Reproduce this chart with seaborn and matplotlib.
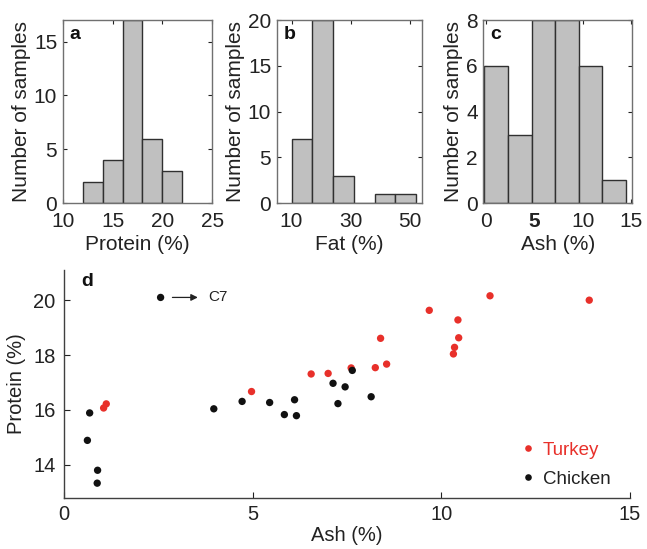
import numpy as np
import pandas as pd
import seaborn as sns
import matplotlib.pyplot as plt

protein_edges = [12, 14, 16, 18, 20, 22]
protein_counts = [2, 4, 17, 6, 3]
fat_edges = [10, 17, 24, 31, 38, 45, 52]
fat_counts = [7, 20, 3, 0, 1, 1]
ash_edges = [-0.2, 2.25, 4.75, 7.15, 9.6, 12.05, 14.5]
ash_counts = [6, 3, 8, 8, 6, 1]

# scatter (panel d)
chicken_ash = [0.62, 0.68, 0.89, 0.88, 3.97, 4.72, 5.45, 5.84, 6.11, 6.16, 7.13, 7.26, 7.45, 7.64, 8.14]
chicken_protein = [14.89, 15.89, 13.80, 13.33, 16.04, 16.31, 16.27, 15.83, 16.37, 15.79, 16.97, 16.23, 16.84, 17.44, 16.48]
turkey_ash = [1.05, 1.12, 4.97, 6.55, 7.00, 7.61, 8.25, 8.39, 8.55, 9.68, 10.32, 10.35, 10.44, 10.46, 11.29, 13.92]
turkey_protein = [16.07, 16.22, 16.67, 17.31, 17.33, 17.53, 17.54, 18.61, 17.67, 19.63, 18.04, 18.28, 19.28, 18.63, 20.16, 20.00]
c7_ash = [2.56]
c7_protein = [20.10]

sns.set_style("ticks")
plt.rcParams['font.family'] = ['Liberation Sans', 'DejaVu Sans']
plt.rcParams['xtick.direction'] = 'in'
plt.rcParams['ytick.direction'] = 'in'

txt = '#222222'
spine = '#404040'
red = '#e8302a'
bar = '#c0c0c0'

fig = plt.figure(figsize=(6.47, 5.49), dpi=100)
W, H = 647, 549


def px_axes(left, top, right, bottom):
    return fig.add_axes([left / W, 1 - bottom / H, (right - left) / W, (bottom - top) / H])


def hist_panel(ax, edges, counts, xlim, xticks, ylim, yticks, xlabel, letter):
    e = np.array(edges, dtype=float)
    hd = pd.DataFrame({'x': (e[:-1] + e[1:]) / 2, 'n': counts})
    sns.histplot(data=hd, x='x', weights='n', bins=list(edges), color=bar, edgecolor='#303030',
                 linewidth=1.0, alpha=1, ax=ax)
    ax.set_xlim(*xlim)
    ax.set_ylim(*ylim)
    ax.set_xticks(xticks)
    ax.set_yticks(yticks)
    ax.set_xlabel(xlabel, fontsize=15, color=txt, labelpad=3)
    ax.set_ylabel('Number of samples', fontsize=15, color=txt, labelpad=2)
    ax.tick_params(labelsize=15, colors=txt, top=True, right=True, length=3, width=0.8)
    ax.tick_params(axis='x', pad=6)
    ax.tick_params(axis='y', pad=4)
    for s in ax.spines.values():
        s.set_color('#707070')
        s.set_linewidth(1.0)
    ax.text(0.045, 0.965, letter, transform=ax.transAxes, fontsize=14, fontweight='bold',
            ha='left', va='top', color='#111111')


ax_a = px_axes(62.7, 20, 212.3, 203.3)
hist_panel(ax_a, protein_edges, protein_counts, (10, 25), [10, 15, 20, 25], (0, 17), [0, 5, 10, 15],
           'Protein (%)', 'a')

ax_b = px_axes(276.7, 20, 422, 203.3)
hist_panel(ax_b, fat_edges, fat_counts, (5, 54), [10, 30, 50], (0, 20), [0, 5, 10, 15, 20],
           'Fat (%)', 'b')

ax_c = px_axes(483.3, 20, 632, 203.3)
hist_panel(ax_c, ash_edges, ash_counts, (-0.25, 15.1), [0, 5, 10, 15], (0, 8), [0, 2, 4, 6, 8],
           'Ash (%)', 'c')
ax_c.get_xticklabels()[1].set_fontweight('bold')

# panel d
df = pd.concat([
    pd.DataFrame({'Ash': turkey_ash, 'Protein': turkey_protein, 'Type': 'Turkey'}),
    pd.DataFrame({'Ash': chicken_ash + c7_ash, 'Protein': chicken_protein + c7_protein, 'Type': 'Chicken'}),
])
ax_d = px_axes(64, 270, 630, 497.7)
sns.scatterplot(data=df, x='Ash', y='Protein', hue='Type', hue_order=['Turkey', 'Chicken'],
                palette={'Turkey': red, 'Chicken': '#111111'}, s=28, edgecolor='none', ax=ax_d)
ax_d.set_xlim(0, 15)
ax_d.set_ylim(12.8, 21.1)
ax_d.set_xticks([0, 5, 10, 15])
ax_d.set_yticks([14, 16, 18, 20])
ax_d.set_xlabel('Ash (%)', fontsize=14.5, color=txt, labelpad=2)
ax_d.set_ylabel('Protein (%)', fontsize=14.5, color=txt, labelpad=5)
ax_d.tick_params(labelsize=14.5, colors=txt, length=4, width=0.8, pad=6)
ax_d.tick_params(axis='x', pad=5)
sns.despine(ax=ax_d)
for s in ['left', 'bottom']:
    ax_d.spines[s].set_color(spine)
    ax_d.spines[s].set_linewidth(1.0)
ax_d.text(0.03, 0.985, 'd', transform=ax_d.transAxes, fontsize=14, fontweight='bold',
          ha='left', va='top', color='#111111')
ax_d.annotate('C7', xy=(3.6, c7_protein[0]), xytext=(3.82, c7_protein[0]), fontsize=11,
              color=txt, va='center', ha='left')
ax_d.annotate('', xy=(3.62, c7_protein[0]), xytext=(2.8, c7_protein[0]),
              arrowprops=dict(arrowstyle='-|>', color='#222222', lw=0.9, mutation_scale=10))

leg = ax_d.legend(frameon=False, loc='lower left', bbox_to_anchor=(0.806, 0.043), fontsize=13.5,
                  handlelength=0.8, handletextpad=0.4, labelspacing=0.65, markerscale=0.9,
                  borderaxespad=0, borderpad=0)
for t, c in zip(leg.get_texts(), [red, txt]):
    t.set_color(c)

fig.savefig('out.png', dpi=100)
